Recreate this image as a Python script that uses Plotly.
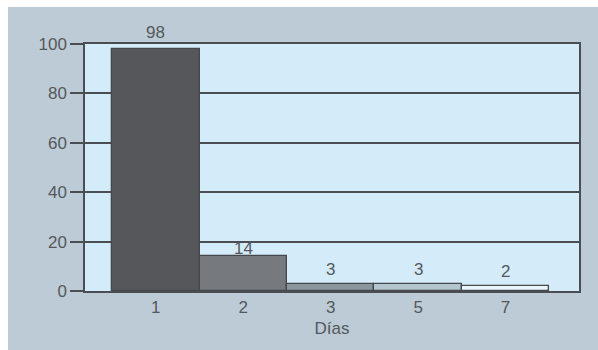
import plotly.graph_objects as go

dias = ["1", "2", "3", "5", "7"]
valores = [98, 14, 3, 3, 2]
colores = ["#55575b", "#76797d", "#8c969d", "#b3c5cf", "#eaf6fc"]
y_ticks = [0, 20, 40, 60, 80, 100]
desplaz_etiqueta = [16, 8, 14, 14, 15]

W, H = 598, 350
L, R, T, B = 85, 19, 44, 59
pw, ph = W - L - R, H - T - B

def px_x(p):
    return (p - L) / pw

def px_y(p):
    return (H - B - p) / ph

font = "Liberation Sans, Arial, sans-serif"
txt = "#55585c"
fs = 17

fig = go.Figure()
fig.add_trace(go.Bar(
    x=dias, y=valores,
    marker=dict(color=colores, line=dict(color="#45484c", width=1.3)),
    width=1,
    hoverinfo="skip",
))

annots = [
    dict(x=i, y=v, xref="x", yref="y", text=str(v), showarrow=False,
         yanchor="middle", xanchor="center", yshift=s,
         font=dict(family=font, size=fs, color=txt))
    for i, (v, s) in enumerate(zip(valores, desplaz_etiqueta))
]

fig.update_layout(
    width=W, height=H,
    margin=dict(l=L, r=R, t=T, b=B),
    paper_bgcolor="#bccbd5",
    plot_bgcolor="#d4ecf9",
    bargap=0,
    showlegend=False,
    font=dict(family=font, size=fs, color=txt),
    annotations=annots,
    xaxis=dict(
        type="category",
        range=[-0.81, 4.84],
        showline=True, linecolor="#4a4d51", linewidth=1.5, mirror=True,
        showgrid=False, ticks="", zeroline=False,
        tickfont=dict(size=fs, color=txt),
        title=dict(text="Días", font=dict(size=fs, color=txt), standoff=6),
    ),
    yaxis=dict(
        range=[0, 100],
        tickvals=y_ticks,
        showline=True, linecolor="#4a4d51", linewidth=1.5, mirror=True,
        showgrid=True, gridcolor="#4a4d51", gridwidth=1.5,
        zeroline=False,
        ticks="outside", ticklen=13, tickcolor="#4a4d51", tickwidth=1.5,
        tickfont=dict(size=fs, color=txt),
    ),
    shapes=[
        dict(type="rect", xref="paper", yref="paper",
             x0=px_x(0), x1=px_x(8), y0=px_y(H), y1=px_y(0),
             fillcolor="white", line=dict(width=0), layer="above"),
        dict(type="rect", xref="paper", yref="paper",
             x0=px_x(0), x1=px_x(W), y0=px_y(7), y1=px_y(0),
             fillcolor="white", line=dict(width=0), layer="above"),
    ],
)

fig.write_html("out.html")
